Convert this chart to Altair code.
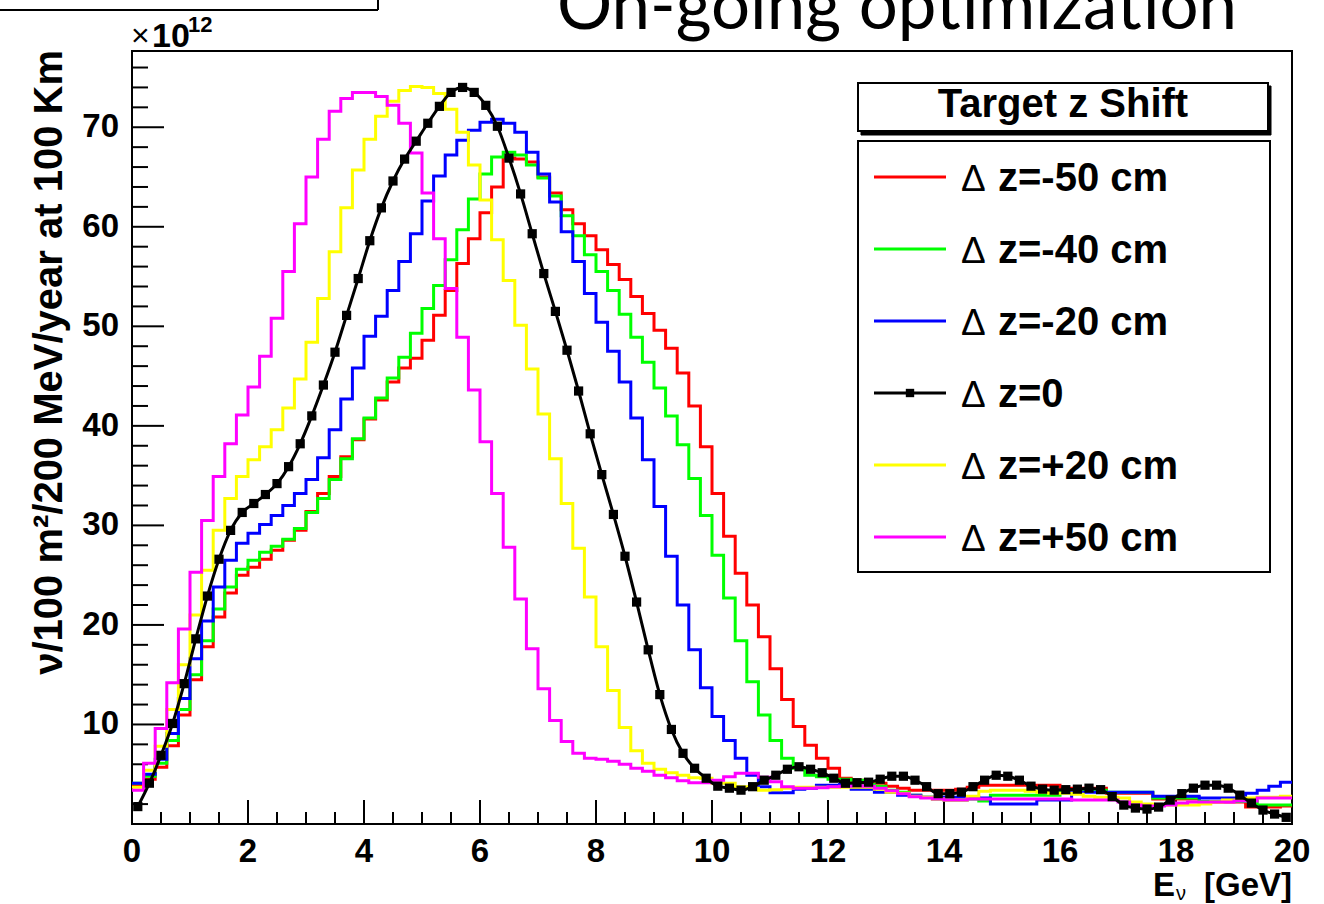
import altair as alt
import pandas as pd

# Neutrino flux per 200 MeV bin (units of 1e12), 100 bins from 0 to 20 GeV
bin_width = 0.2
n_bins = 100

dz_m50 = [3.9, 4.5, 5.7, 7.85, 10.95, 14.5, 17.8, 20.8, 23.2, 25.0,
          25.8, 26.6, 27.5, 28.5, 29.5, 31.4, 33.2, 34.9, 36.9, 38.6,
          40.7, 42.6, 44.4, 45.8, 46.8, 48.6, 51.1, 53.6, 56.3, 58.8,
          61.4, 64.0, 66.9, 66.8, 66.5, 65.0, 63.4, 61.7, 60.3, 59.1,
          57.7, 56.2, 54.7, 53.0, 51.3, 49.6, 47.8, 45.3, 42.0, 37.9,
          33.2, 28.9, 25.2, 22.0, 18.8, 15.6, 12.5, 9.8, 7.9, 6.6,
          5.6, 4.6, 4.4, 4.2, 4.1, 3.8, 3.6, 3.4, 3.4, 3.4,
          3.4, 3.5, 3.7, 3.9, 3.9, 3.9, 3.9, 3.9, 3.9, 3.9,
          3.6, 3.6, 3.6, 3.6, 3.1, 3.1, 3.1, 3.1, 2.5, 2.5,
          2.5, 2.5, 2.2, 2.2, 2.2, 2.2, 1.7, 1.7, 1.7, 1.8]

dz_m40 = [4.1, 4.8, 6.1, 8.4, 11.5, 15.0, 18.4, 21.6, 23.8, 25.6,
          26.5, 27.3, 27.9, 28.6, 29.7, 31.3, 32.7, 34.6, 36.7, 38.7,
          40.8, 42.8, 44.8, 46.9, 49.3, 51.8, 54.1, 56.7, 59.7, 62.8,
          65.3, 67.0, 67.5, 67.2, 66.2, 64.9, 63.1, 61.1, 59.1, 57.2,
          55.5, 53.6, 51.2, 48.9, 46.4, 43.8, 41.0, 38.1, 34.7, 31.0,
          27.0, 22.7, 18.4, 14.3, 10.95, 8.4, 6.6, 5.6, 4.9, 4.75,
          4.5, 4.5, 4.4, 4.0, 3.8, 3.4, 3.2, 2.9, 2.7, 2.5,
          2.4, 2.4, 2.5, 2.3, 2.9, 2.9, 2.9, 2.9, 2.9, 2.9,
          3.4, 3.4, 3.4, 3.4, 3.2, 3.2, 3.2, 3.2, 2.6, 2.6,
          2.6, 2.6, 2.25, 2.25, 2.25, 2.25, 2.25, 1.9, 1.9, 1.9]

dz_m20 = [4.1, 5.0, 6.5, 9.1, 12.6, 16.6, 20.4, 23.8, 26.5, 28.2,
          29.2, 30.1, 31.0, 32.0, 33.2, 34.6, 36.8, 39.6, 42.7, 45.8,
          49.0, 51.0, 53.6, 56.5, 59.3, 62.6, 65.1, 67.2, 68.7, 69.7,
          70.5, 70.8, 70.4, 69.5, 67.5, 65.3, 62.5, 59.5, 56.5, 53.3,
          50.4, 47.5, 44.4, 40.8, 36.6, 31.9, 26.9, 22.0, 17.5, 13.7,
          10.8, 8.4, 6.6, 4.9, 3.75, 3.15, 3.15, 3.5, 3.6, 3.9,
          3.9, 4.0, 3.5, 3.5, 3.2, 3.2, 2.9, 2.9, 2.7, 2.7,
          2.7, 2.7, 2.7, 2.6, 2.0, 2.0, 2.0, 2.0, 2.4, 2.4,
          2.4, 3.2, 3.2, 3.2, 3.2, 3.2, 3.2, 3.2, 2.8, 2.8,
          2.8, 2.8, 2.6, 2.6, 2.6, 2.6, 3.1, 3.4, 3.8, 4.2]

dz_0 = [1.75, 4.1, 6.9, 10.1, 14.1, 18.6, 22.9, 26.6, 29.5, 31.3,
        32.2, 33.1, 34.2, 35.9, 38.2, 41.0, 44.1, 47.4, 51.1, 54.8,
        58.6, 61.9, 64.6, 66.8, 68.6, 70.4, 72.1, 73.5, 74.0, 73.5,
        72.2, 70.1, 66.9, 63.3, 59.3, 55.3, 51.5, 47.6, 43.5, 39.2,
        35.1, 31.1, 26.9, 22.3, 17.5, 13.0, 9.5, 7.1, 5.6, 4.6,
        3.8, 3.6, 3.4, 3.75, 4.4, 4.9, 5.5, 5.75, 5.5, 5.15,
        4.6, 4.1, 4.15, 4.2, 4.5, 4.8, 4.8, 4.4, 3.75, 3.05,
        3.05, 3.2, 3.75, 4.4, 4.9, 4.8, 4.4, 3.8, 3.5, 3.4,
        3.45, 3.5, 3.6, 3.45, 2.75, 1.9, 1.6, 1.5, 1.7, 2.4,
        3.05, 3.6, 3.9, 3.9, 3.6, 2.9, 2.1, 1.4, 1.0, 0.67]

dz_p20 = [3.7, 5.4, 7.8, 11.5, 16.0, 21.0, 25.5, 29.5, 32.7, 34.9,
          36.6, 37.9, 39.6, 41.8, 44.7, 48.4, 52.8, 57.5, 61.9, 65.7,
          68.8, 71.1, 72.6, 73.7, 74.1, 74.0, 73.4, 71.8, 69.5, 66.2,
          62.7, 58.7, 54.6, 50.1, 45.7, 41.2, 36.7, 32.2, 27.7, 22.8,
          17.8, 13.4, 9.7, 7.35, 6.1, 5.5, 5.15, 4.9, 4.65, 4.6,
          4.1, 4.1, 3.75, 3.6, 3.4, 3.45, 3.6, 3.7, 3.7, 3.7,
          3.7, 3.7, 3.7, 3.7, 3.5, 3.2, 3.1, 2.8, 2.7, 2.5,
          2.4, 2.4, 2.8, 3.3, 3.4, 3.4, 3.4, 3.3, 3.2, 3.1,
          3.1, 3.0, 2.8, 2.7, 2.7, 2.6, 2.2, 2.0, 1.9, 1.9,
          1.9, 1.9, 2.0, 2.2, 2.4, 2.4, 2.6, 2.7, 2.7, 2.8]

dz_p50 = [3.4, 6.1, 9.6, 14.2, 19.6, 25.3, 30.5, 34.9, 38.2, 41.1,
          43.9, 47.0, 50.8, 55.5, 60.3, 65.0, 68.8, 71.6, 72.9, 73.5,
          73.5, 73.1, 72.2, 70.4, 67.4, 63.4, 58.8, 53.8, 48.9, 43.6,
          38.4, 33.2, 27.8, 22.6, 17.6, 13.6, 10.4, 8.3, 7.1, 6.6,
          6.5, 6.3, 6.0, 5.6, 5.3, 4.9, 4.65, 4.35, 4.15, 4.15,
          4.4, 4.75, 5.1, 5.1, 4.7, 4.25, 3.75, 3.6, 3.6, 3.65,
          3.75, 3.8, 3.85, 3.8, 3.6, 3.35, 3.05, 2.75, 2.6, 2.5,
          2.4, 2.4, 2.5, 2.5, 2.5, 2.5, 2.5, 2.5, 2.5, 2.5,
          2.5, 2.4, 2.4, 2.4, 2.4, 2.2, 1.9, 1.8, 1.8, 1.9,
          2.1, 2.2, 2.2, 2.2, 2.2, 2.3, 2.3, 2.6, 2.6, 2.6]

series_labels = ["z=-50 cm", "z=-40 cm", "z=-20 cm", "z=0", "z=+20 cm", "z=+50 cm"]
series_colors = ["#ff0000", "#00ff00", "#0000ff", "#000000", "#ffff00", "#ff00ff"]

x_major = [0, 2, 4, 6, 8, 10, 12, 14, 16, 18, 20]
x_minor = [v / 2 for v in range(41) if v % 4 != 0]
y_major = [10, 20, 30, 40, 50, 60, 70]
y_minor = [v for v in range(2, 78, 2) if v % 10 != 0]

W, H = 1160, 773
FONT = "Liberation Sans"

x_scale = alt.Scale(domain=[0, 20], nice=False, zero=False)
y_scale = alt.Scale(domain=[0, 77.66], nice=False, zero=False)


def step_frame(values):
    xs = [round(i * bin_width, 1) for i in range(n_bins + 1)]
    ys = list(values) + [values[-1]]
    return pd.DataFrame({"e": xs, "v": ys})


def hist_layer(values, color):
    return alt.Chart(step_frame(values)).mark_line(
        interpolate="step-after", color=color, strokeWidth=3
    ).encode(
        x=alt.X("e:Q", scale=x_scale, axis=None),
        y=alt.Y("v:Q", scale=y_scale, axis=None),
    )


one = pd.DataFrame({"k": [0]})


def label(text, x, y, size, weight="bold", align="left", baseline="alphabetic",
          angle=0, font=FONT):
    return alt.Chart(one).mark_text(
        text=text, font=font, fontSize=size, fontWeight=weight, align=align,
        baseline=baseline, angle=angle, color="black"
    ).encode(x=alt.value(x), y=alt.value(y))


def rect(x1, y1, x2, y2, fill="white", stroke="black", sw=2):
    return alt.Chart(one).mark_rect(fill=fill, stroke=stroke, strokeWidth=sw).encode(
        x=alt.value(x1), x2=alt.value(x2), y=alt.value(y1), y2=alt.value(y2)
    )


def xticks(vals, length):
    return alt.Chart(pd.DataFrame({"t": vals})).mark_rule(color="black", strokeWidth=2).encode(
        x=alt.X("t:Q", scale=x_scale, axis=None), y=alt.value(H), y2=alt.value(H - length)
    )


def yticks(vals, length):
    return alt.Chart(pd.DataFrame({"t": vals})).mark_rule(color="black", strokeWidth=2).encode(
        y=alt.Y("t:Q", scale=y_scale, axis=None), x=alt.value(0), x2=alt.value(length)
    )


# tick labels placed through the same scales as the data
x_labels = alt.Chart(pd.DataFrame({"t": x_major, "s": [str(v) for v in x_major]})).mark_text(
    font=FONT, fontWeight="bold", fontSize=33, align="center", baseline="middle", color="black"
).encode(x=alt.X("t:Q", scale=x_scale, axis=None), y=alt.value(801), text="s:N")

y_labels = alt.Chart(pd.DataFrame({"t": y_major, "s": [str(v) for v in y_major]})).mark_text(
    font=FONT, fontWeight="bold", fontSize=33, align="right", baseline="middle", color="black"
).encode(y=alt.Y("t:Q", scale=y_scale, axis=None), x=alt.value(-13), text="s:N")

layers = [xticks(x_major, 24), xticks(x_minor, 12), yticks(y_major, 32), yticks(y_minor, 16),
          x_labels, y_labels]

for vals, col in [(dz_m50, "#ff0000"), (dz_m40, "#00ff00"), (dz_m20, "#0000ff"),
                  (dz_p20, "#ffff00"), (dz_p50, "#ff00ff")]:
    layers.append(hist_layer(vals, col))

centers = pd.DataFrame({"c": [round((i + 0.5) * bin_width, 2) for i in range(n_bins)], "v": dz_0})
layers.append(alt.Chart(centers).mark_line(interpolate="monotone", color="black", strokeWidth=3).encode(
    x=alt.X("c:Q", scale=x_scale, axis=None), y=alt.Y("v:Q", scale=y_scale, axis=None)))
layers.append(alt.Chart(centers).mark_point(shape="square", filled=True, color="black", size=85, opacity=1).encode(
    x=alt.X("c:Q", scale=x_scale, axis=None), y=alt.Y("v:Q", scale=y_scale, axis=None)))

# legend: title box with shadow, then the entry box
layers.append(rect(729, 35, 1139, 84, fill="black", stroke="black", sw=1))
layers.append(rect(726, 32, 1136, 80))
layers.append(label("Target z Shift", 931, 66, 40, align="center"))
layers.append(rect(726, 90, 1138, 521))
entry_y = [126, 198, 270, 342, 414, 486]
for lab, col, yy in zip(series_labels, series_colors, entry_y):
    layers.append(alt.Chart(one).mark_rule(color=col, strokeWidth=3).encode(
        x=alt.value(742), x2=alt.value(814), y=alt.value(yy)))
    layers.append(label("\u0394", 829, yy + 14, 37, weight="normal"))
    layers.append(label(lab, 866, yy + 14, 40))
layers.append(alt.Chart(one).mark_point(shape="square", filled=True, color="black", size=70, opacity=1).encode(
    x=alt.value(778), y=alt.value(342)))

# axis titles and exponent
layers.append(label("\u03bd/100 m\u00b2/200 MeV/year at 100 Km", -82, -1, 40,
                    align="right", baseline="middle", angle=270))
layers.append(label("[GeV]", 1160, 845, 33, align="right"))
layers.append(label("E", 1043, 845, 33, align="right"))
layers.append(label("\u03bd", 1044, 849, 20, weight="normal"))
layers.append(label("\u00d7", -1, -5, 32, weight="normal"))
layers.append(label("10", 20, -4, 34))
layers.append(label("12", 56, -19, 22))

# page heading and neighbouring frame
layers.append(label("On-going optimization", 765, -22, 69, weight="normal", align="center", font="Lato"))
layers.append(alt.Chart(one).mark_rule(color="black", strokeWidth=2).encode(
    x=alt.value(-140), x2=alt.value(246), y=alt.value(-41)))
layers.append(alt.Chart(one).mark_rule(color="black", strokeWidth=2).encode(
    x=alt.value(246), y=alt.value(-60), y2=alt.value(-41)))

chart = alt.layer(*layers).properties(
    width=W, height=H,
    autosize=alt.AutoSizeParams(type="none"),
    padding={"left": 132, "top": 51, "right": 32, "bottom": 80},
    background="white",
).configure_view(stroke="black", strokeWidth=2)

chart.save("out.html", embed_options={"renderer": "svg", "actions": False})
